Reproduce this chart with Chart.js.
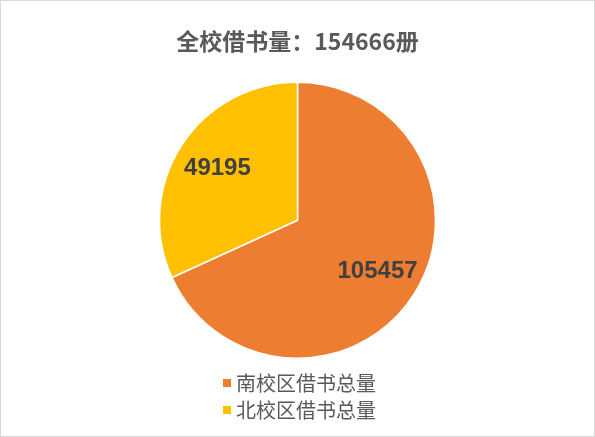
<!DOCTYPE html>
<html>
<head>
<meta charset="utf-8">
<script src="https://cdn.jsdelivr.net/npm/chart.js@4"></script>
<style>
  html, body { margin: 0; padding: 0; background: #fff; }
  #wrap { width: 595px; height: 437px; }
</style>
</head>
<body>
<div id="wrap"><canvas id="pieChart" width="595" height="437"></canvas></div>
<script>
const titleText = '全校借书量：154666册';
const labels = ['南校区借书总量', '北校区借书总量'];
const values = [105457, 49195];
const colors = ['#ED7D31', '#FFC000'];

const cjk = '"Noto Sans CJK SC", "Noto Sans", sans-serif';

// value labels inside slices + vertical legend + frame
const extras = {
    id: 'extras',
    afterDatasetsDraw(chart) {
        const ctx = chart.ctx;
        const meta = chart.getDatasetMeta(0);
        ctx.save();
        ctx.font = 'bold 24px "Liberation Sans", Arial, sans-serif';
        ctx.fillStyle = '#404040';
        ctx.textAlign = 'center';
        ctx.textBaseline = 'middle';
        meta.data.forEach((arc, i) => {
            const p = arc.getProps(['x', 'y', 'startAngle', 'endAngle', 'outerRadius'], true);
            const mid = (p.startAngle + p.endAngle) / 2;
            const d = p.outerRadius * 0.69;
            ctx.fillText(String(values[i]), p.x + Math.cos(mid) * d, p.y + Math.sin(mid) * d);
        });
        ctx.restore();
    },
    afterDraw(chart) {
        const ctx = chart.ctx;
        ctx.save();
        ctx.font = '20px ' + cjk;
        ctx.textBaseline = 'middle';
        ctx.textAlign = 'left';
        labels.forEach((lab, i) => {
            const y = 383 + i * 27;
            ctx.fillStyle = colors[i];
            ctx.fillRect(223, y - 4, 8, 8);
            ctx.fillStyle = '#595959';
            ctx.fillText(lab, 236, y);
        });
        ctx.strokeStyle = '#d9d9d9';
        ctx.lineWidth = 1;
        ctx.strokeRect(0.5, 0.5, chart.width - 1, chart.height - 1);
        ctx.restore();
    }
};

new Chart(document.getElementById('pieChart').getContext('2d'), {
    type: 'pie',
    data: {
        labels: labels,
        datasets: [{
            data: values,
            backgroundColor: colors,
            borderColor: '#ffffff',
            borderWidth: 1.5
        }]
    },
    options: {
        responsive: false,
        animation: false,
        layout: {
            padding: { top: 0, bottom: 78, left: 0, right: 0 }
        },
        plugins: {
            legend: { display: false },
            tooltip: { enabled: false },
            title: {
                display: true,
                text: titleText,
                color: '#595959',
                font: { family: cjk, size: 23, weight: 'bold' },
                padding: { top: 27, bottom: 27 }
            }
        }
    },
    plugins: [extras]
});
</script>
</body>
</html>
